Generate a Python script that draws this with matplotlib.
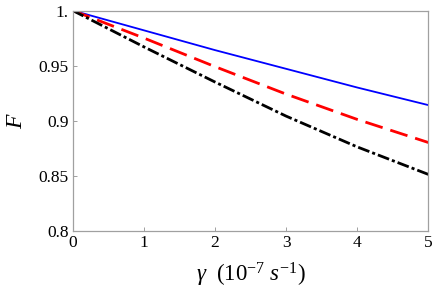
import matplotlib
matplotlib.use("Agg")
import matplotlib.pyplot as plt

plt.rcParams['font.family'] = ['Liberation Serif', 'DejaVu Serif']
plt.rcParams['mathtext.fontset'] = 'custom'
plt.rcParams['mathtext.rm'] = 'Liberation Serif'
plt.rcParams['mathtext.it'] = 'Liberation Serif:italic'
plt.rcParams['lines.scale_dashes'] = False

gamma = [0, 1, 2, 3, 4, 5]
F_blue = [1.0, 0.982, 0.964, 0.947, 0.930, 0.914]
F_red = [1.0, 0.975, 0.949, 0.924, 0.901, 0.880]
F_black = [1.0, 0.967, 0.935, 0.904, 0.876, 0.851]

xticks = [0, 1, 2, 3, 4, 5]
yticks = [0.8, 0.85, 0.9, 0.95, 1.0]
ytick_labels = ['0.8', '0.85', '0.9', '0.95', '1.']

fig = plt.figure(figsize=(4.34, 2.92), dpi=100)
ax = fig.add_axes([0.1675, 0.2106, 0.8195, 0.7534])

ax.plot(gamma, F_blue, color=(0, 0, 1), lw=1.3)
ax.plot(gamma, F_red, color=(1, 0, 0), lw=2.0, dashes=(13, 5.8))
ax.plot(gamma, F_black, color='black', lw=2.0, dashes=(8.6, 2.2, 2.2, 2.2))

ax.set_xlim(0, 5)
ax.set_ylim(0.8, 1.0)
ax.set_xticks(xticks)
ax.set_xticklabels([str(t) for t in xticks])
ax.set_yticks(yticks)
ax.set_yticklabels(ytick_labels)

for s in ax.spines.values():
    s.set_color('#a0a0a0')
    s.set_linewidth(0.9)
ax.tick_params(direction='in', length=3, width=0.7, color='#a0a0a0',
               labelsize=12.5, pad=3)

ax.set_xlabel(r'$\gamma\ \ (\mathit{10}^{-7}\ s^{-1})$', fontsize=16.5, labelpad=7)
ax.set_ylabel(r'$F$', fontsize=17, labelpad=8)

fig.savefig('out.png', dpi=100)
